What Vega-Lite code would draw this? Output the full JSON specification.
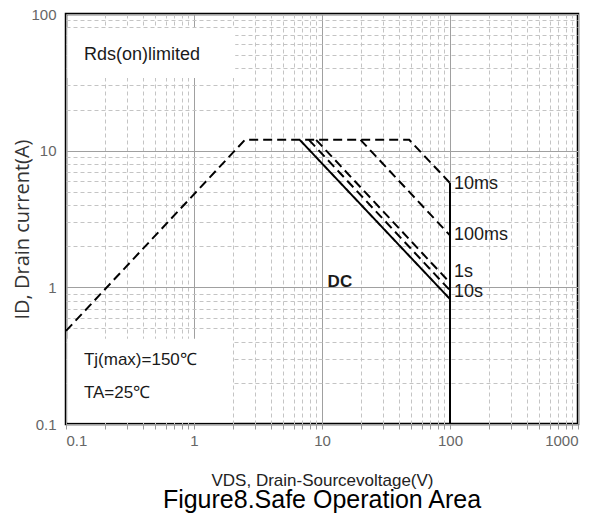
{
  "$schema": "https://vega.github.io/schema/vega-lite/v6.json",
  "width": 512,
  "height": 410,
  "autosize": "none",
  "padding": {"left": 66, "top": 14, "right": 29, "bottom": 91},
  "background": "white",
  "config": {
    "view": {"stroke": "black", "strokeWidth": 2.5},
    "text": {"font": "Liberation Sans", "color": "#1a1a1a"}
  },
  "title": {
    "text": "Figure8.Safe Operation Area",
    "orient": "bottom",
    "anchor": "middle",
    "font": "Liberation Sans",
    "fontSize": 25,
    "fontWeight": "normal",
    "color": "black",
    "offset": 0
  },
  "datasets": {
    "boxes": [
      {"x": 0.1025, "x2": 2.1, "y": 34, "y2": 79},
      {"x": 0.1025, "x2": 2.0, "y": 0.1025, "y2": 0.42}
    ],
    "curves": [
      {"curve": "limit", "style": "dashed", "k": 1, "x": 0.1, "y": 0.48},
      {"curve": "limit", "style": "dashed", "k": 2, "x": 2.5, "y": 12},
      {"curve": "limit", "style": "dashed", "k": 3, "x": 48, "y": 12},
      {"curve": "limit", "style": "dashed", "k": 4, "x": 100, "y": 5.8},
      {"curve": "100ms", "style": "dashed", "k": 1, "x": 20, "y": 12},
      {"curve": "100ms", "style": "dashed", "k": 2, "x": 100, "y": 2.4},
      {"curve": "1s", "style": "dashed", "k": 1, "x": 9.0, "y": 12},
      {"curve": "1s", "style": "dashed", "k": 2, "x": 100, "y": 1.08},
      {"curve": "10s", "style": "dashed", "k": 1, "x": 7.9, "y": 12},
      {"curve": "10s", "style": "dashed", "k": 2, "x": 100, "y": 0.95},
      {"curve": "DC", "style": "solid", "k": 1, "x": 6.7, "y": 12},
      {"curve": "DC", "style": "solid", "k": 2, "x": 100, "y": 0.82},
      {"curve": "Vmax", "style": "solid", "k": 1, "x": 100, "y": 5.8},
      {"curve": "Vmax", "style": "solid", "k": 2, "x": 100, "y": 0.1}
    ],
    "curveLabels": [
      {"t": "10ms", "x": 100, "y": 5.7},
      {"t": "100ms", "x": 100, "y": 2.4},
      {"t": "1s", "x": 100, "y": 1.3},
      {"t": "10s", "x": 100, "y": 0.93}
    ],
    "notes": [
      {"t": "Rds(on)limited", "x": 0.138, "y": 50, "size": 18},
      {"t": "Tj(max)=150℃", "x": 0.138, "y": 0.293, "size": 17},
      {"t": "TA=25℃", "x": 0.138, "y": 0.168, "size": 17}
    ]
  },
  "layer": [
    {
      "data": {"name": "boxes"},
      "mark": {"type": "rect", "fill": "white"},
      "encoding": {
        "x": {
          "field": "x",
          "type": "quantitative",
          "scale": {"type": "log", "domain": [0.1, 1000], "nice": false},
          "axis": {
            "values": [0.1, 0.2, 0.3, 0.4, 0.5, 0.6, 0.7, 0.8, 0.9, 1, 2, 3, 4, 5, 6, 7, 8, 9, 10, 20, 30, 40, 50, 60, 70, 80, 90, 100, 200, 300, 400, 500, 600, 700, 800, 900, 1000],
            "format": "~g",
            "labelExpr": "indexof([0.1, 1, 10, 100, 1000], datum.value) >= 0 ? datum.label : ''",
            "labelOverlap": false,
            "labelFont": "Liberation Sans",
            "labelFontSize": 15,
            "labelColor": "#666",
            "labelPadding": 4,
            "domain": false,
            "ticks": true,
            "tickColor": "#999",
            "tickSize": 5,
            "grid": true,
            "gridWidth": 1,
            "gridColor": {"condition": {"test": "indexof([0.1, 1, 10, 100, 1000], datum.value) >= 0", "value": "#a0a0a0"}, "value": "#c4c4c4"},
            "gridDash": {"condition": {"test": "indexof([0.1, 1, 10, 100, 1000], datum.value) >= 0", "value": []}, "value": [4, 3]},
            "title": "VDS, Drain-Sourcevoltage(V)",
            "titleFont": "Liberation Sans",
            "titleFontSize": 17,
            "titleFontWeight": "normal",
            "titleColor": "#222",
            "titleY": 61,
            "titleBaseline": "alphabetic"
          }
        },
        "x2": {"field": "x2"},
        "y": {
          "field": "y",
          "type": "quantitative",
          "scale": {"type": "log", "domain": [0.1, 100], "nice": false},
          "axis": {
            "values": [0.1, 0.2, 0.3, 0.4, 0.5, 0.6, 0.7, 0.8, 0.9, 1, 2, 3, 4, 5, 6, 7, 8, 9, 10, 20, 30, 40, 50, 60, 70, 80, 90, 100],
            "format": "~g",
            "labelExpr": "indexof([0.1, 1, 10, 100], datum.value) >= 0 ? datum.label : ''",
            "labelOverlap": false,
            "labelFont": "Liberation Sans",
            "labelFontSize": 15,
            "labelColor": "#666",
            "labelPadding": 10,
            "domain": false,
            "ticks": false,
            "grid": true,
            "gridWidth": 1,
            "gridColor": {"condition": {"test": "indexof([0.1, 1, 10, 100], datum.value) >= 0", "value": "#a0a0a0"}, "value": "#c4c4c4"},
            "gridDash": {"condition": {"test": "indexof([0.1, 1, 10, 100], datum.value) >= 0", "value": []}, "value": [4, 3]},
            "title": "ID, Drain current(A)",
            "titleFont": "Open Sans",
            "titleFontSize": 20,
            "titleFontWeight": "normal",
            "titleColor": "#333",
            "titleX": -44,
            "titleY": 215,
            "titleBaseline": "middle"
          }
        },
        "y2": {"field": "y2"}
      }
    },
    {
      "data": {"name": "curves"},
      "mark": {"type": "line", "color": "black", "strokeWidth": 2},
      "encoding": {
        "x": {"field": "x", "type": "quantitative"},
        "y": {"field": "y", "type": "quantitative"},
        "detail": {"field": "curve"},
        "order": {"field": "k"},
        "strokeDash": {
          "field": "style",
          "type": "nominal",
          "scale": {"domain": ["solid", "dashed"], "range": [[1, 0], [9, 5]]},
          "legend": null
        }
      }
    },
    {
      "data": {"name": "curveLabels"},
      "mark": {"type": "text", "align": "left", "baseline": "middle", "dx": 4, "fontSize": 18},
      "encoding": {
        "x": {"field": "x", "type": "quantitative"},
        "y": {"field": "y", "type": "quantitative"},
        "text": {"field": "t"}
      }
    },
    {
      "data": {"values": [{"t": "DC", "x": 13.8, "y": 1.09}]},
      "mark": {"type": "text", "align": "center", "baseline": "middle", "fontSize": 17, "fontWeight": "bold"},
      "encoding": {
        "x": {"field": "x", "type": "quantitative"},
        "y": {"field": "y", "type": "quantitative"},
        "text": {"field": "t"}
      }
    },
    {
      "data": {"name": "notes"},
      "mark": {"type": "text", "align": "left", "baseline": "middle"},
      "encoding": {
        "x": {"field": "x", "type": "quantitative"},
        "y": {"field": "y", "type": "quantitative"},
        "text": {"field": "t"},
        "size": {"field": "size", "type": "quantitative", "scale": null}
      }
    }
  ]
}
